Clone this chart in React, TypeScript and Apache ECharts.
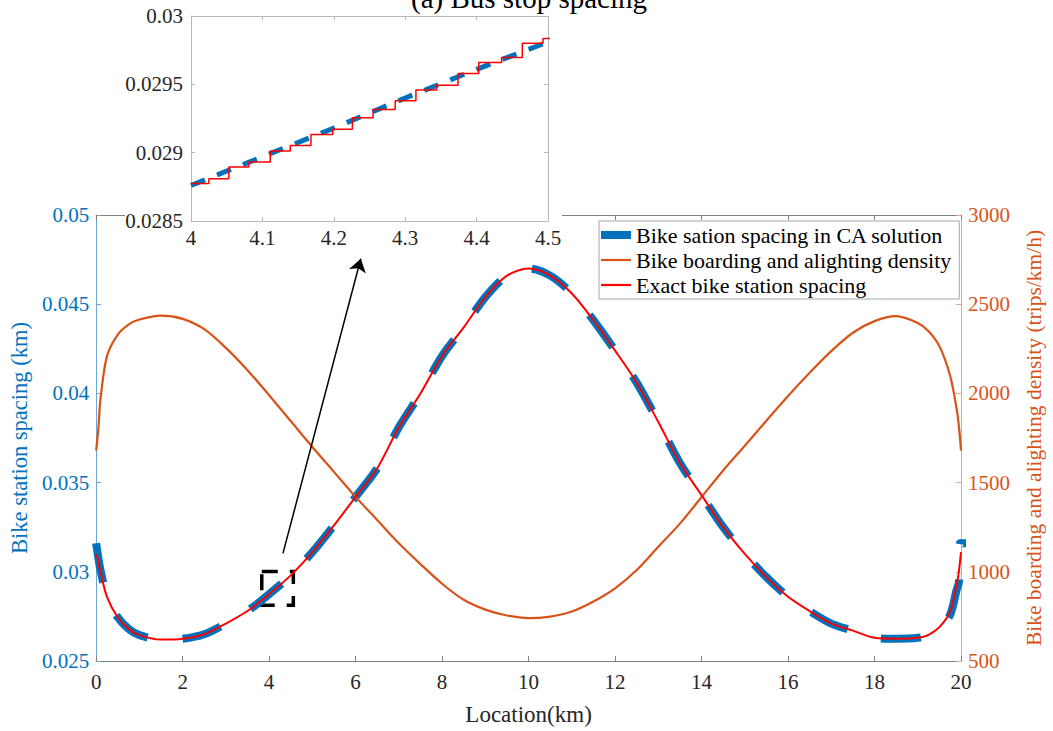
import React, { useEffect, useRef } from 'react';
import * as echarts from 'echarts';

// ---- Data ----
const locationKm = [0, 0.05, 0.1, 0.25, 0.5, 0.75, 1, 1.5, 2, 2.5, 3, 3.5, 4, 4.5, 5, 5.5, 6, 6.5, 7, 7.5, 8, 8.5, 9, 9.5, 10,
  10.5, 11, 11.5, 12, 12.5, 13, 13.5, 14, 14.5, 15, 15.5, 16, 16.5, 17, 17.5, 18, 18.5, 19, 19.25, 19.5, 19.75, 19.9, 19.95, 20];

const exactSpacing = [0.0310, 0.0306, 0.0300, 0.0286, 0.02745, 0.0268, 0.02645, 0.0262, 0.02625, 0.0265, 0.0271, 0.0278, 0.02875,
  0.0298, 0.0311, 0.0326, 0.0342, 0.0358, 0.0381, 0.0400, 0.0421, 0.0437, 0.0454, 0.0466, 0.0470,
  0.0466, 0.0456, 0.0441, 0.0424, 0.0406, 0.0384, 0.0361, 0.0343, 0.0325, 0.0310, 0.0297, 0.0286, 0.0278, 0.0271, 0.0267,
  0.0263, 0.02625, 0.0263, 0.02647, 0.0269, 0.02777, 0.0293, 0.0300, 0.0311];

const density = [1679, 1800, 1968, 2209, 2330, 2386, 2414, 2436, 2418, 2360, 2255, 2130, 1990, 1845, 1700, 1560, 1420, 1290,
  1160, 1043, 933, 843, 788, 755, 740,
  749, 777, 833, 907, 1010, 1140, 1270, 1419, 1568, 1707, 1847, 1986, 2116, 2237, 2340, 2405, 2433, 2395, 2349, 2265, 2098,
  1912, 1819, 1679];

const caLocationKm = [0, 0.05, 0.1, 0.25, 0.5, 0.75, 1, 1.5, 2, 2.5, 3, 3.5, 4, 4.5, 5, 5.5, 6, 6.5, 7, 7.5, 8, 8.5, 9, 9.5, 10,
  10.5, 11, 11.5, 12, 12.5, 13, 13.5, 14, 14.5, 15, 15.5, 16, 16.5, 17, 17.5, 18, 18.5, 19, 19.25, 19.5, 19.75, 19.9, 19.95,
  19.98, 20.14];

const caSpacing = [0.0316, 0.0308, 0.0301, 0.0286, 0.02745, 0.0268, 0.02645, 0.0262, 0.02625, 0.0265, 0.0271, 0.0278, 0.02875,
  0.0298, 0.0311, 0.0326, 0.0342, 0.0358, 0.0381, 0.0400, 0.0421, 0.0437, 0.0454, 0.0466, 0.0470,
  0.0466, 0.0456, 0.0441, 0.0424, 0.0406, 0.0384, 0.0361, 0.0343, 0.0325, 0.0310, 0.0297, 0.0286, 0.0278, 0.0271, 0.0267,
  0.0263, 0.02625, 0.0263, 0.02645, 0.0268, 0.0276, 0.0290, 0.0294, 0.0316, 0.0316];

// Inset (zoom of 4 - 4.5 km)
const insetCaLocation = [4, 4.1, 4.2, 4.3, 4.4, 4.5];
const insetCaSpacing = [0.02876, 0.02897, 0.02918, 0.0294, 0.02961, 0.02981];

const insetStepLocation = [4.0, 4.025, 4.053, 4.081, 4.111, 4.139, 4.168, 4.1985, 4.226, 4.255, 4.286, 4.315, 4.344, 4.374,
  4.403, 4.435, 4.464, 4.493, 4.52];
const insetStepSpacing = [0.028774, 0.02881, 0.028896, 0.028932, 0.029013, 0.029052, 0.029133, 0.029172, 0.029255, 0.029316,
  0.029379, 0.029458, 0.029494, 0.02958, 0.02966, 0.029697, 0.0298, 0.029836, 0.029836];

const seriesNames = ['Bike sation spacing in CA solution', 'Bike boarding and alighting density', 'Exact bike station spacing'];
const titleText = '(a) Bus stop spacing';
const xName = 'Location(km)';
const yLeftName = 'Bike station spacing (km)';
const yRightName = 'Bike boarding and alighting density (trips/km/h)';

// zoom box and arrow annotation (data coordinates)
const zoomBox = [[3.83, 0.03002], [4.56, 0.028125]];
const arrowFromTo = [[4.32, 0.03103], [6.12, 0.04755]];

const BLUE = '#0072BD';
const ORANGE = '#D95319';
const RED = '#FF0000';
const FONT = 'Liberation Serif';
const AX = '#808080';

const zip = (xs: number[], ys: number[]) => xs.map((x, i) => [x, ys[i]]);

const lbl = (color: string, margin: number, digits: number) => ({
  margin,
  fontFamily: FONT,
  fontSize: 21,
  color,
  formatter: (v: number) => `{t|${String(+v.toFixed(digits))}}`,
  rich: { t: { fontFamily: FONT, fontSize: 21, color, fontWeight: 'normal' } },
});

export default function App() {
  const ref = useRef<HTMLDivElement>(null);
  useEffect(() => {
    const chart = echarts.init(ref.current!, null, { renderer: 'svg' });
    const option: any = {
      animation: false,
      backgroundColor: '#fff',
      textStyle: { fontFamily: FONT },
      grid: [
        { left: 95, top: 215, width: 871, height: 448, show: false },
        { left: 191, top: 16, width: 357, height: 205, show: false },
      ],
      legend: {
        data: [
          { name: seriesNames[0], icon: 'path://M0,0H30V8H0Z', itemStyle: { color: BLUE } },
          { name: seriesNames[1], icon: 'path://M0,0H30V2.2H0Z', itemStyle: { color: ORANGE } },
          { name: seriesNames[2], icon: 'path://M0,0H30V2.2H0Z', itemStyle: { color: RED } },
        ],
        orient: 'vertical',
        left: 599,
        top: 221,
        itemWidth: 30,
        itemHeight: 16,
        itemGap: 3,
        padding: [3, 8, 3, 2],
        borderColor: '#a6a6a6',
        borderWidth: 1,
        backgroundColor: '#fff',
        selectedMode: false,
        textStyle: { fontFamily: FONT, fontSize: 22, color: '#000' },
      },
      graphic: [
        { type: 'rect', shape: { x: 125, y: 0, width: 437, height: 247 }, style: { fill: '#fff' }, z: 5, silent: true },
        {
          type: 'text', x: 529, y: -2, z: 20,
          style: { text: titleText, fontSize: 29, fontFamily: FONT, fill: '#000', align: 'center', verticalAlign: 'middle' },
        },
      ],
      xAxis: [
        {
          gridIndex: 0, type: 'value', min: 0, max: 20, interval: 2, position: 'bottom',
          axisLine: { show: true, onZero: false, lineStyle: { color: AX, width: 1 } },
          axisTick: { show: true, inside: true, length: 5, lineStyle: { color: AX } },
          axisLabel: lbl('#262626', 10, 0),
          splitLine: { show: false },
          name: xName, nameLocation: 'middle', nameGap: 42,
          nameTextStyle: { color: '#262626', fontSize: 23, fontFamily: FONT },
        },
        {
          gridIndex: 0, type: 'value', min: 0, max: 20, interval: 2, position: 'top',
          axisLine: { show: true, onZero: false, lineStyle: { color: AX, width: 1 } },
          axisTick: { show: true, inside: true, length: 5, lineStyle: { color: AX } },
          axisLabel: { show: false },
          splitLine: { show: false },
        },
        {
          gridIndex: 1, type: 'value', min: 4, max: 4.5, interval: 0.1, position: 'bottom', z: 10,
          axisLine: { show: true, onZero: false, lineStyle: { color: '#b8b8b8', width: 1 } },
          axisTick: { show: true, inside: true, length: 4, lineStyle: { color: '#b8b8b8' } },
          axisLabel: lbl('#262626', 6, 1),
          splitLine: { show: false },
        },
        {
          gridIndex: 1, type: 'value', min: 4, max: 4.5, interval: 0.1, position: 'top', z: 10,
          axisLine: { show: true, onZero: false, lineStyle: { color: '#b8b8b8', width: 1 } },
          axisTick: { show: true, inside: true, length: 4, lineStyle: { color: '#b8b8b8' } },
          axisLabel: { show: false },
          splitLine: { show: false },
        },
      ],
      yAxis: [
        {
          gridIndex: 0, type: 'value', min: 0.025, max: 0.05, interval: 0.005, position: 'left',
          axisLine: { show: true, onZero: false, lineStyle: { color: '#6fa7d4', width: 1 } },
          axisTick: { show: true, inside: true, length: 5, lineStyle: { color: '#6fa7d4' } },
          axisLabel: lbl(BLUE, 7, 4),
          splitLine: { show: false },
          name: yLeftName, nameLocation: 'middle', nameGap: 62,
          nameTextStyle: { color: BLUE, fontSize: 22.5, fontFamily: FONT },
        },
        {
          gridIndex: 0, type: 'value', min: 500, max: 3000, interval: 500, position: 'right',
          axisLine: { show: true, onZero: false, lineStyle: { color: '#e8a587', width: 1 } },
          axisTick: { show: true, inside: true, length: 5, lineStyle: { color: '#e8a587' } },
          axisLabel: lbl(ORANGE, 7, 0),
          splitLine: { show: false },
          name: yRightName, nameLocation: 'middle', nameGap: 62,
          nameTextStyle: { color: ORANGE, fontSize: 21.5, fontFamily: FONT, verticalAlign: 'top' },
        },
        {
          gridIndex: 1, type: 'value', min: 0.0285, max: 0.03, interval: 0.0005, position: 'left', z: 10,
          axisLine: { show: true, onZero: false, lineStyle: { color: '#b8b8b8', width: 1 } },
          axisTick: { show: true, inside: true, length: 4, lineStyle: { color: '#b8b8b8' } },
          axisLabel: lbl('#262626', 8, 4),
          splitLine: { show: false },
        },
        {
          gridIndex: 1, type: 'value', min: 0.0285, max: 0.03, interval: 0.0005, position: 'right', z: 10,
          axisLine: { show: true, onZero: false, lineStyle: { color: '#b8b8b8', width: 1 } },
          axisTick: { show: true, inside: true, length: 4, lineStyle: { color: '#b8b8b8' } },
          axisLabel: { show: false },
          splitLine: { show: false },
        },
      ],
      series: [
        {
          name: seriesNames[0], type: 'line', xAxisIndex: 0, yAxisIndex: 0,
          data: zip(caLocationKm, caSpacing), showSymbol: false, symbol: 'none', smooth: 0.3, clip: false,
          lineStyle: { color: BLUE, width: 8, type: [40, 35], cap: 'butt' }, itemStyle: { color: BLUE }, z: 2,
        },
        {
          name: seriesNames[1], type: 'line', xAxisIndex: 0, yAxisIndex: 1,
          data: zip(locationKm, density), showSymbol: false, symbol: 'none', smooth: 0.3,
          lineStyle: { color: ORANGE, width: 2.2 }, itemStyle: { color: ORANGE }, z: 3,
        },
        {
          name: seriesNames[2], type: 'line', xAxisIndex: 0, yAxisIndex: 0,
          data: zip(locationKm, exactSpacing), showSymbol: false, symbol: 'none', smooth: 0.3,
          lineStyle: { color: RED, width: 2 }, itemStyle: { color: RED }, z: 4,
          markLine: {
            silent: true, symbol: ['none', 'arrow'], symbolSize: 13,
            lineStyle: { color: '#000', width: 1.5, type: 'solid' },
            label: { show: false },
            data: [[{ coord: arrowFromTo[0] }, { coord: arrowFromTo[1] }]],
          },
          markArea: {
            silent: true,
            itemStyle: { color: 'rgba(0,0,0,0)', borderColor: '#000', borderWidth: 3.5, borderType: [16, 12] },
            label: { show: false },
            data: [[{ coord: zoomBox[0] }, { coord: zoomBox[1] }]],
          },
        },
        {
          name: 'inset CA', type: 'line', xAxisIndex: 2, yAxisIndex: 2,
          data: zip(insetCaLocation, insetCaSpacing), showSymbol: false, symbol: 'none',
          lineStyle: { color: BLUE, width: 5, type: [15, 13] }, z: 10,
        },
        {
          name: 'inset exact', type: 'line', xAxisIndex: 2, yAxisIndex: 2, step: 'end',
          data: zip(insetStepLocation, insetStepSpacing), showSymbol: false, symbol: 'none',
          lineStyle: { color: RED, width: 1.5 }, z: 11,
        },
      ],
    };
    chart.setOption(option);
    return () => chart.dispose();
  }, []);
  return <div ref={ref} style={{ position: 'fixed', left: 0, top: 0, width: 1053, height: 731, background: '#fff' }} />;
}
